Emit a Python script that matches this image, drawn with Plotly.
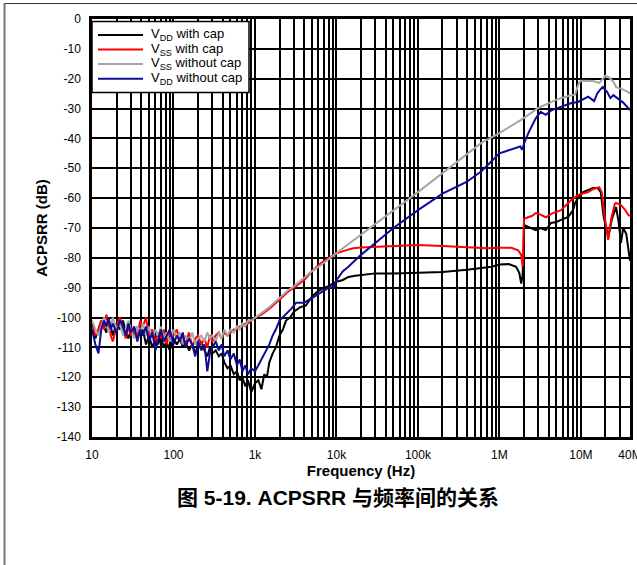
import plotly.graph_objects as go
import numpy as np

# ---------------- data ----------------
f_lo = [10, 11, 12, 13, 14, 15, 16, 17, 18, 20, 22, 24, 26, 28, 30, 33, 36, 39, 42, 46,
        50, 55, 60, 65, 70, 76, 82, 90, 100, 110, 120, 130, 140, 155, 170, 185, 200, 220,
        240, 260, 280, 300, 330, 360, 390, 420, 460, 500, 550, 600, 650, 700, 760, 820, 900, 1000]

# V_DD with cap (black)
vdd_cap_lo = [-102, -107, -104, -101, -103, -105, -101, -103, -106, -102, -104, -101, -105, -107, -104, -106,
              -103, -106, -104, -109, -106, -110, -107, -109, -106, -110, -108, -111, -107, -109, -107, -110,
              -108, -111, -109, -112, -110, -108, -111, -113, -110, -112, -111, -113, -112, -115, -117, -116,
              -119, -118, -121, -120, -123, -121, -125, -122]
vdd_cap_hi_f = [1100, 1200, 1300, 1400, 1500, 1650, 1800, 2000, 2200, 2400, 2700, 3000, 3600, 4200, 5000,
                5800, 7000, 8000, 9300, 10000, 12000, 14000, 17000, 20000, 30000, 50000, 100000, 200000,
                400000, 600000, 800000, 1000000, 1300000, 1600000, 1750000, 1850000, 1920000, 1980000,
                2000000, 2200000, 2500000, 2800000, 3200000, 3700000, 4300000, 5000000, 5700000, 7000000,
                8000000, 8500000, 10000000, 12000000, 14000000, 16000000, 17500000, 19000000, 21600000,
                24000000, 27000000, 29000000, 31000000, 33000000, 36000000, 40000000]
vdd_cap_hi = [-121, -124, -119, -120, -115, -112, -110, -106, -104, -101, -100, -98, -96.5, -96, -93,
              -91.4, -90, -89.5, -88.4, -88, -87.4, -86.4, -86, -85.8, -85.2, -85.2, -85, -84.7,
              -84, -83.4, -83, -82.2, -82.1, -83, -85, -88.6, -86, -78,
              -69, -69.5, -70, -70.7, -70, -70.7, -68.3, -68, -67.3, -66.3,
              -64, -61.6, -58.3, -57.5, -56.6, -56.6, -58, -66.3, -73,
              -67, -63, -68, -75, -70, -72, -81]

# V_SS with cap (red)
vss_cap_lo = [-103, -106, -104, -101, -104, -99, -102, -106, -108, -103, -100, -104, -107, -103, -106, -104,
              -107, -101, -103, -100, -106, -104, -108, -105, -107, -104, -109, -105, -106, -104, -108, -106,
              -109, -105, -110, -107, -106, -109, -107, -110, -106, -108, -106, -105, -107, -105, -106, -105,
              -104, -104, -103, -103, -102, -102, -101, -100]
vss_cap_hi_f = [1200, 1500, 2000, 2500, 3000, 4000, 5000, 6400, 8000, 10000, 13000, 16000, 20000, 30000,
                50000, 100000, 200000, 400000, 700000, 1000000, 1400000, 1700000, 1850000, 1930000, 1980000,
                2000000, 2200000, 2500000, 2800000, 3200000, 3700000, 4500000, 5700000, 6500000, 7600000,
                9200000, 10500000, 12300000, 14000000, 16800000, 18000000, 19500000, 21600000, 23500000,
                26000000, 27000000, 31000000, 35000000, 38000000, 40000000]
vss_cap_hi = [-99, -97, -94, -91.5, -90, -87.5, -84.5, -81.8, -80, -78.5, -77.5, -76.8, -76.5, -76.3,
              -76.1, -75.7, -76, -76.5, -76.8, -76.6, -76.6, -77.5, -79, -83, -75,
              -67, -66.5, -66, -65, -65.5, -66.4, -65, -64, -62.5, -60.6,
              -59, -58.5, -58, -57, -56.3, -58, -66, -74, -67,
              -62, -61.6, -62.3, -64, -65.6, -66]

# V_SS without cap (gray)
vss_nocap_lo = [-101, -104, -106, -103, -100, -102, -105, -103, -100, -104, -102, -106, -103, -101, -104, -107,
                -103, -105, -102, -106, -103, -107, -104, -106, -103, -107, -105, -108, -104, -107, -105, -109,
                -106, -108, -105, -109, -107, -106, -108, -105, -107, -106, -108, -105, -107, -104, -106, -104,
                -105, -103, -104, -102, -103, -101, -101, -100]
vss_nocap_hi_f = [1200, 1500, 2000, 2500, 3000, 4000, 5000, 6400, 10000, 100000, 600000, 1000000, 1840000,
                  3000000, 5000000, 7000000, 8500000, 9000000, 9500000, 10000000, 12000000, 14000000,
                  16800000, 18000000, 20000000, 22000000, 25000000, 27000000, 32000000, 38000000, 40000000]
vss_nocap_hi = [-98.5, -96.5, -93.5, -91, -89.5, -86.5, -84.5, -82.5, -78.4, -58, -41.5, -38.2, -33.8,
                -29.8, -27, -25.8, -25.3, -23, -21.4, -20.7, -20.7, -20.8,
                -21.4, -20.5, -19, -19.5, -21, -22.8, -23.5, -24.5, -25]

# V_DD without cap (navy)
vdd_nocap_lo = [-104, -109, -112, -104, -101, -103, -100, -104, -102, -105, -101, -103, -106, -102, -105, -103,
                -108, -104, -106, -103, -108, -105, -111, -107, -104, -108, -106, -104, -109, -106, -108, -105,
                -110, -107, -109, -113, -108, -111, -109, -118, -112, -110, -108, -111, -109, -113, -111, -114,
                -112, -116, -114, -118, -116, -119, -117, -118]
vdd_nocap_hi_f = [1100, 1200, 1350, 1500, 1650, 1800, 2000, 2400, 2800, 3200, 4000, 5000, 5800, 7000, 8000,
                  9300, 10000, 12000, 14000, 20000, 30000, 50000, 100000, 200000, 400000, 600000, 1000000,
                  1500000, 1800000, 1900000, 2050000, 2300000, 2600000, 2800000, 3200000, 3700000, 4400000,
                  5700000, 7500000, 9200000, 12300000, 14500000, 15800000, 17000000, 18500000, 21000000,
                  23000000, 25000000, 28000000, 33000000, 38000000, 40000000]
vdd_nocap_hi = [-116, -114, -111.5, -109, -106, -104, -101, -99, -97, -95, -95, -93.5, -92.5, -91, -90,
                -89.7, -87.5, -84.5, -83, -79, -75, -70, -64, -58.5, -54.5, -51, -45,
                -43.5, -42.7, -43.8, -41, -37.8, -35, -33.2, -31.1, -32.1, -30.5,
                -29.5, -28.2, -27.8, -26, -27.5, -25, -23.8, -22.8, -24.5,
                -26.5, -25.5, -26.5, -28, -29.8, -30.5]

series_names = ["V<sub>DD</sub> with cap", "V<sub>SS</sub> with cap",
                "V<sub>SS</sub> without cap", "V<sub>DD</sub> without cap"]
series_colors = ["#000000", "#ff0000", "#a6a6a6", "#0c0c96"]

x_tickvals = [10, 100, 1e3, 1e4, 1e5, 1e6, 1e7, 4e7]
x_ticktext = ["10", "100", "1k", "10k", "100k", "1M", "10M", "40M"]
y_tickvals = list(range(-140, 1, 10))
y_ticktext = [str(v) for v in y_tickvals]

# ---------------- figure ----------------
series = [
    (f_lo + vdd_cap_hi_f, vdd_cap_lo + vdd_cap_hi),
    (f_lo + vss_cap_hi_f, vss_cap_lo + vss_cap_hi),
    (f_lo + vss_nocap_hi_f, vss_nocap_lo + vss_nocap_hi),
    (f_lo + vdd_nocap_hi_f, vdd_nocap_lo + vdd_nocap_hi),
]

fig = go.Figure()
for (fx, fy), name, col in zip(series, series_names, series_colors):
    fig.add_trace(go.Scatter(x=fx, y=fy, mode="lines", name=name,
                             line=dict(color=col, width=2), showlegend=False))

minor_vals = [m * 10 ** d for d in range(1, 8) for m in range(2, 10) if m * 10 ** d < 4e7]

FONT = "Liberation Sans, Arial, sans-serif"
L, R, T, B = 92, 7, 19, 128
W, H = 637, 565
pw = W - L - R
ph = H - T - B


def px(xpix):
    return (xpix - L) / pw


def py(ypix):
    return (H - B - ypix) / ph


fig.update_layout(
    width=W, height=H,
    margin=dict(l=L, r=R, t=T, b=B, pad=0, autoexpand=False),
    paper_bgcolor="white", plot_bgcolor="white",
    font=dict(family=FONT, size=12, color="black"),
    showlegend=False,
    xaxis=dict(type="log", range=[1, np.log10(4e7)], automargin=False,
               tickmode="array", tickvals=x_tickvals, ticktext=x_ticktext,
               showgrid=True, gridcolor="black", gridwidth=1.6,
               minor=dict(tickmode="array", tickvals=minor_vals, showgrid=True,
                          gridcolor="black", gridwidth=1.5, ticks=""),
               showline=True, linecolor="black", linewidth=2.5, mirror=True,
               ticks="", ticklabelstandoff=5, ticklabeloverflow="allow",
               tickfont=dict(size=12),
               title=dict(text="<b>Frequency (Hz)</b>", font=dict(size=15), standoff=2),
               zeroline=False),
    yaxis=dict(range=[-140, 0], automargin=False,
               tickmode="array", tickvals=y_tickvals, ticktext=y_ticktext,
               showgrid=True, gridcolor="black", gridwidth=1.6,
               showline=True, linecolor="black", linewidth=2.5, mirror=True,
               ticks="", ticklabelstandoff=6, tickfont=dict(size=12),
               title=dict(text="<b>ACPSRR (dB)</b>", font=dict(size=15), standoff=6),
               zeroline=False),
)

# legend (drawn manually to match the compact original)
leg_rows = [35, 49.5, 64, 78.7]
fig.add_shape(type="rect", xref="paper", yref="paper",
              x0=px(92), x1=px(249), y0=py(21.5), y1=py(92.5),
              fillcolor="white", line=dict(color="black", width=1.5), layer="above")
for yrow, name, col in zip(leg_rows, series_names, series_colors):
    fig.add_shape(type="line", xref="paper", yref="paper",
                  x0=px(98), x1=px(143), y0=py(yrow), y1=py(yrow),
                  line=dict(color=col, width=2), layer="above")
    fig.add_annotation(text=name, xref="paper", yref="paper",
                       x=px(149), y=py(yrow), xanchor="left", yanchor="middle",
                       showarrow=False, font=dict(size=13, family=FONT, color="black"))

# caption
fig.add_annotation(text="<b>图 5-19. ACPSRR 与频率间的关系</b>",
                   xref="paper", yref="paper",
                   x=px(337.5), y=py(497),
                   xanchor="center", yanchor="middle", showarrow=False,
                   font=dict(size=21, family="Liberation Sans, Noto Sans CJK SC, sans-serif"))

# page frame lines
fig.add_shape(type="line", xref="paper", yref="paper",
              x0=px(5), x1=px(W), y0=py(3.5), y1=py(3.5),
              line=dict(color="#333333", width=1))
fig.add_shape(type="line", xref="paper", yref="paper",
              x0=px(4.5), x1=px(4.5), y0=py(3), y1=py(H),
              line=dict(color="#777777", width=2))

fig.write_html("out.html")
